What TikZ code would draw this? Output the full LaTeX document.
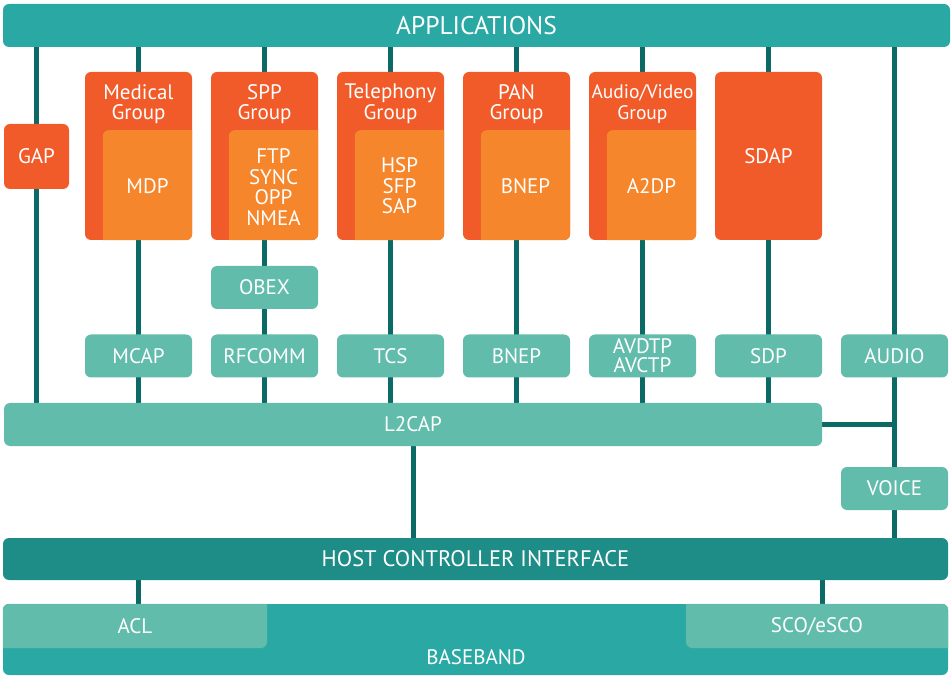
\documentclass[tikz,border=0pt]{standalone}
\usepackage{fontspec}
\setmainfont{PT Sans}
\usetikzlibrary{positioning}
\usetikzlibrary{backgrounds}

\definecolor{appteal}{HTML}{2AA9A4}
\definecolor{lightteal}{HTML}{62BCAB}
\definecolor{hciteal}{HTML}{1F8D87}
\definecolor{linkteal}{HTML}{0B6A66}
\definecolor{grpred}{HTML}{F15A29}
\definecolor{grporange}{HTML}{F5862B}

\begin{document}
\begin{tikzpicture}[
x=1pt, y=-1pt,
txt/.style={text=white, font=\fontsize{21}{20.5}\selectfont, align=center, inner sep=0pt},
box/.style={txt, rectangle, rounded corners=6pt},
layerbox/.style={box, fill=lightteal, minimum width=107pt, minimum height=43pt},
grpbox/.style={box, fill=grpred, minimum width=107pt, minimum height=168pt},
bar/.style={box, minimum height=43pt},
link/.style={draw=linkteal, line width=5pt},
]
\useasboundingbox (0,0) rectangle (951,676);

%Top bar
\node[bar, fill=appteal, minimum width=947pt, font=\fontsize{25.5}{25}\selectfont] (app) at (476.5,25.5) {APPLICATIONS};

%Profiles
\node[box, fill=grpred, minimum width=65pt, minimum height=65pt] (gap) at (36.5,156.5) {GAP};
\node[grpbox] (med)  at (138.5,156) {};
\node[grpbox] (spp)  at (264.5,156) {};
\node[grpbox] (tel)  at (390.5,156) {};
\node[grpbox] (pan)  at (516.5,156) {};
\node[grpbox] (av)   at (642.5,156) {};
\node[grpbox] (sdap) at (768.5,156) {SDAP};

\foreach \g in {med,spp,tel,pan,av}{
  \begin{scope}
    \clip[rounded corners=6pt] (\g.north west) rectangle (\g.south east);
    \fill[grporange, rounded corners=6pt] ([xshift=18pt, yshift=110pt]\g.south west) rectangle ([shift={(10pt,-10pt)}]\g.south east);
  \end{scope}
}

\node[txt] (medttl) at (138.5,104) {Medical\\Group};
\node[txt] (sppttl) at (264.5,104) {SPP\\Group};
\node[txt] (telttl) at (390.5,104) {Telephony\\Group};
\node[txt] (panttl) at (516.5,104) {PAN\\Group};
\node[txt, font=\fontsize{19.5}{20.5}\selectfont] (avttl) at (642.5,104) {Audio/Video\\Group};

\node[txt] (mdp)  at (147.5,186) {MDP};
\node[txt] (ftp)  at (273.5,187) {FTP\\SYNC\\OPP\\NMEA};
\node[txt] (hsp)  at (399.5,186) {HSP\\SFP\\SAP};
\node[txt] (bnepp) at (525.5,186) {BNEP};
\node[txt] (a2dp) at (651.5,186) {A2DP};

%Protocols
\node[layerbox] (obex)   at (264.5,287.5) {OBEX};
\node[layerbox] (mcap)   at (138.5,356) {MCAP};
\node[layerbox] (rfcomm) at (264.5,356) {RFCOMM};
\node[layerbox] (tcs)    at (390.5,356) {TCS};
\node[layerbox] (bnep)   at (516.5,356) {BNEP};
\node[layerbox, font=\fontsize{21}{19}\selectfont] (avdtp) at (642.5,356) {AVDTP\\AVCTP};
\node[layerbox] (sdp)    at (768.5,356) {SDP};
\node[layerbox] (audio)  at (894.5,356) {AUDIO};
\node[layerbox] (voice)  at (894.5,488.5) {VOICE};
\node[bar, fill=lightteal, minimum width=818pt] (l2cap) at (413,424.5) {L2CAP};

%Controller
\node[bar, fill=hciteal, minimum width=945pt, minimum height=42pt, font=\fontsize{22.5}{22}\selectfont] (hci) at (475.5,559) {HOST CONTROLLER INTERFACE};
\node[box, fill=appteal, minimum width=945pt, minimum height=71pt] (bb) at (475.5,639.5) {};
\begin{scope}
  \clip[rounded corners=6pt] (bb.north west) rectangle (bb.south east);
  \fill[lightteal, rounded corners=6pt] (-10,590) rectangle (267,648);
  \fill[lightteal, rounded corners=6pt] (686,648) rectangle (960,590);
\end{scope}
\node[txt] (acl) at (135,626) {ACL};
\node[txt] (sco) at (817,626) {SCO/eSCO};
\node[txt] (bbtxt) at (476,657) {BASEBAND};

%Lines
\begin{scope}[on background layer]
\draw[link] (app.south -| gap)  -- (l2cap.north -| gap);
\draw[link] (app.south -| med)  -- (l2cap.north -| med);
\draw[link] (app.south -| spp)  -- (l2cap.north -| spp);
\draw[link] (app.south -| tel)  -- (l2cap.north -| tel);
\draw[link] (app.south -| pan)  -- (l2cap.north -| pan);
\draw[link] (app.south -| av)   -- (l2cap.north -| av);
\draw[link] (app.south -| sdap) -- (l2cap.north -| sdap);
\draw[link] (app.south -| audio) -- (hci.north -| audio);
\draw[link] (l2cap.east) -- (l2cap.east -| audio);
\draw[link] (l2cap.south) -- (hci.north -| l2cap.south);
\draw[link] (hci.south -| mcap) -- (bb.north -| mcap);
\draw[link] (hci.south -| l2cap.east) -- (bb.north -| l2cap.east);
\end{scope}
\end{tikzpicture}
\end{document}
